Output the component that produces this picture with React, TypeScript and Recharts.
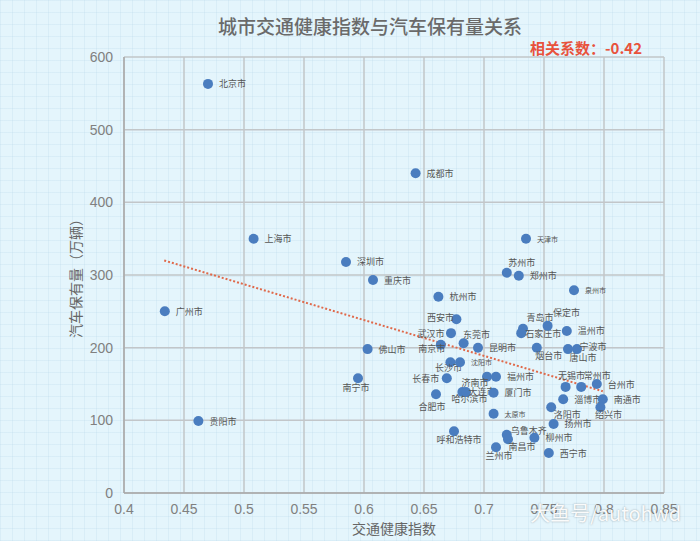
import React from 'react';
import { CartesianGrid, ReferenceLine, Scatter, ScatterChart, XAxis, YAxis } from 'recharts';

// 城市 / 交通健康指数 / 汽车保有量（万辆）
const cities = [
  '北京市', '成都市', '上海市', '深圳市', '重庆市', '广州市', '贵阳市', '佛山市', '南宁市',
  '天津市', '苏州市', '郑州市', '泉州市', '杭州市', '西安市', '武汉市', '南京市', '东莞市',
  '昆明市', '烟台市', '长沙市', '沈阳市', '长春市', '济南市', '福州市', '哈尔滨市', '大连市',
  '合肥市', '厦门市', '太原市', '呼和浩特市', '乌鲁木齐', '南昌市', '柳州市', '兰州市', '西宁市',
  '扬州市', '洛阳市', '淄博市', '无锡市', '常州市', '台州市', '南通市', '绍兴市', '青岛市',
  '石家庄市', '保定市', '温州市', '唐山市', '宁波市',
];
const trafficIndex = [
  0.470, 0.643, 0.508, 0.585, 0.6075, 0.434, 0.462, 0.603, 0.595,
  0.735, 0.719, 0.729, 0.775, 0.662, 0.677, 0.6725, 0.664, 0.683,
  0.695, 0.744, 0.672, 0.680, 0.669, 0.7025, 0.710, 0.682, 0.685,
  0.660, 0.708, 0.708, 0.675, 0.719, 0.720, 0.742, 0.710, 0.754,
  0.758, 0.756, 0.766, 0.768, 0.781, 0.794, 0.799, 0.797, 0.7325,
  0.731, 0.753, 0.769, 0.770, 0.7775,
];
const carOwnership = [
  563, 440, 350, 318, 293, 250, 99, 198, 158,
  350, 303, 299, 279, 270, 239, 220, 204, 206,
  200, 200, 180, 180, 158, 160, 160, 139, 139,
  136, 138, 109, 85, 80, 74, 76, 63, 55,
  95, 118, 129, 146, 146, 150, 129, 118, 226,
  220, 230, 223, 198, 198,
];
const xTicks = [0.4, 0.45, 0.5, 0.55, 0.6, 0.65, 0.7, 0.75, 0.8, 0.85];
const yTicks = [0, 100, 200, 300, 400, 500, 600];
const trendX = [0.4335, 0.799];
const trendY = [320, 140];
const correlation = -0.42;

const points = cities.map((name, i) => ({ name, x: trafficIndex[i], y: carOwnership[i] }));

// label offsets (center of text relative to the dot), default: right of dot
const labelOffset: Record<string, [number, number]> = {
  '南宁市': [-2, 9],
  '苏州市': [15, -10],
  '西安市': [-16, -2],
  '武汉市': [-20, 0],
  '南京市': [-9, 4],
  '东莞市': [13, -9],
  '长沙市': [-2, 5],
  '长春市': [-21, 0],
  '济南市': [-12, 6],
  '哈尔滨市': [7, 7],
  '大连市': [16, 0],
  '合肥市': [-4, 12],
  '呼和浩特市': [5, 8],
  '乌鲁木齐': [22, -4],
  '南昌市': [14, 7],
  '兰州市': [3, 8],
  '洛阳市': [16, 7],
  '无锡市': [6, -11],
  '常州市': [16, -11],
  '绍兴市': [8, 7],
  '青岛市': [17, -11],
  '石家庄市': [22, 0],
  '保定市': [19, -13],
  '烟台市': [12, 8],
  '宁波市': [16, -3],
  '唐山市': [15, 8],
};
const smallLabels = ['天津市', '泉州市', '太原市', '沈阳市'];

const CityDot = (props: any) => {
  const { cx, cy, payload } = props;
  const name: string = payload.name;
  const small = smallLabels.includes(name);
  const size = small ? 7 : 9;
  const off = labelOffset[name];
  const w = name.length * size;
  const [dx, dy] = off ?? [11 + w / 2, 0];
  return (
    <g>
      <circle cx={cx} cy={cy} r={5} fill="#4a7dbf" />
      <text
        x={cx + dx}
        y={cy + dy}
        textAnchor="middle"
        dominantBaseline="central"
        fontSize={size}
        fill="#555"
        fontFamily="'Noto Sans CJK SC', sans-serif"
      >
        {name}
      </text>
    </g>
  );
};

const tickStyle = { fontSize: 14, fill: '#808080', fontFamily: "'Liberation Sans', Arial, sans-serif" };

export default function App() {
  return (
    <div
      style={{
        position: 'absolute',
        left: 0,
        top: 0,
        width: 700,
        height: 541,
        backgroundColor: '#e4f5fc',
        backgroundImage:
          'linear-gradient(rgba(175,210,228,0.22) 1px, transparent 1px), linear-gradient(90deg, rgba(175,210,228,0.22) 1px, transparent 1px)',
        backgroundSize: '12px 12px',
        fontFamily: "'Noto Sans CJK SC', sans-serif",
        overflow: 'hidden',
      }}
    >
      <ScatterChart width={700} height={541} margin={{ top: 57, right: 36, bottom: 0, left: 0 }}>
        <CartesianGrid stroke="#c2c6c9" strokeWidth={1.5} />
        <XAxis
          type="number"
          dataKey="x"
          domain={[0.4, 0.85]}
          ticks={xTicks}
          height={48}
          tickSize={0}
          tickMargin={11}
          tick={tickStyle}
          axisLine={{ stroke: '#a8a8a8', strokeWidth: 1.5 }}
        />
        <YAxis
          type="number"
          dataKey="y"
          domain={[0, 600]}
          ticks={yTicks}
          width={124}
          tickSize={0}
          tickMargin={11}
          tick={tickStyle}
          axisLine={{ stroke: '#a8a8a8', strokeWidth: 1.5 }}
        />
        <Scatter data={points} shape={CityDot} isAnimationActive={false} />
        <ReferenceLine
          segment={[
            { x: trendX[0], y: trendY[0] },
            { x: trendX[1], y: trendY[1] },
          ]}
          stroke="#e0694a"
          strokeWidth={2}
          strokeDasharray="2 2"
          ifOverflow="visible"
        />
      </ScatterChart>

      <div
        style={{
          position: 'absolute',
          left: 370,
          top: 25,
          transform: 'translate(-50%, -50%)',
          fontSize: 19,
          color: '#6a6a6a',
          fontWeight: 500,
          whiteSpace: 'nowrap',
        }}
      >
        城市交通健康指数与汽车保有量关系
      </div>
      <div
        style={{
          position: 'absolute',
          right: 58,
          top: 47,
          transform: 'translateY(-50%)',
          fontSize: 15,
          color: '#e8523c',
          fontWeight: 700,
          whiteSpace: 'nowrap',
        }}
      >
        相关系数：{correlation.toFixed(2)}
      </div>
      <div
        style={{
          position: 'absolute',
          left: 75,
          top: 275,
          transform: 'translate(-50%, -50%) rotate(-90deg)',
          fontSize: 14,
          color: '#666',
          whiteSpace: 'nowrap',
        }}
      >
        汽车保有量（万辆）
      </div>
      <div
        style={{
          position: 'absolute',
          left: 394,
          top: 528,
          transform: 'translate(-50%, -50%)',
          fontSize: 14,
          color: '#666',
          whiteSpace: 'nowrap',
        }}
      >
        交通健康指数
      </div>
      <div
        style={{
          position: 'absolute',
          left: 530,
          top: 512,
          transform: 'translateY(-50%)',
          fontSize: 20,
          color: 'rgba(255,255,255,0.95)',
          textShadow: '0 0 2px rgba(0,0,0,0.35)',
          whiteSpace: 'nowrap',
        }}
      >
        大鱼号/autohwd
      </div>
    </div>
  );
}
